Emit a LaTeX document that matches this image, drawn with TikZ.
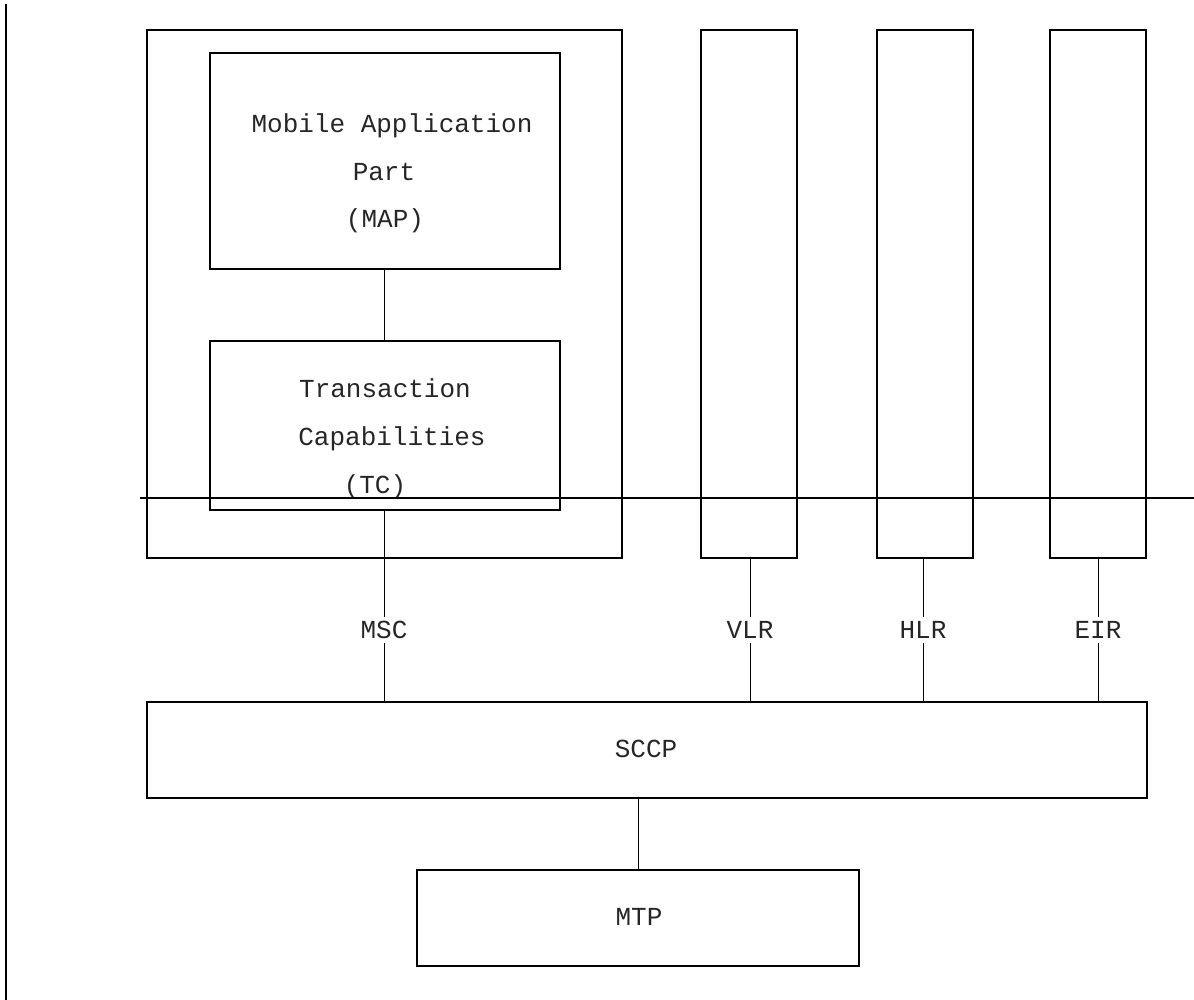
\documentclass[tikz,border=0pt]{standalone}
\usepackage{fontspec}
\setmonofont{Liberation Mono}
\begin{document}
\begin{tikzpicture}[x=1pt,y=-1pt,
  blk/.style={draw, line width=1.3pt, inner sep=0pt, rectangle},
  txt/.style={font=\ttfamily\fontsize{26}{30}\selectfont, anchor=base, inner sep=0pt, text=black!85},
  lbl/.style={font=\ttfamily\fontsize{26}{30}\selectfont, inner sep=4pt, text=black!85},
  conn/.style={line width=1pt},
  rule/.style={line width=2pt}]
\useasboundingbox (0,0) rectangle (1194,1000);

% boxes
\node[blk, minimum width=475pt, minimum height=528pt] (msc) at (384.5,294) {};
\node[blk, minimum width=350pt, minimum height=216pt] (map) at (385,161) {};
\node[blk, minimum width=350pt, minimum height=169pt] (tc) at (385,425.5) {};
\node[blk, minimum width=96pt, minimum height=528pt] (vlr) at (749,294) {};
\node[blk, minimum width=96pt, minimum height=528pt] (hlr) at (925,294) {};
\node[blk, minimum width=96pt, minimum height=528pt] (eir) at (1098,294) {};
\node[blk, minimum width=1000pt, minimum height=96pt] (sccp) at (647,750) {};
\node[blk, minimum width=442pt, minimum height=96pt] (mtp) at (638,918) {};

% texts
\node[txt] (map1) at (392,133) {Mobile Application};
\node[txt] (map2) at (384,181) {Part};
\node[txt] (map3) at (385,228) {(MAP)};
\node[txt] (tc1) at (385,397) {Transaction};
\node[txt] (tc2) at (392,445) {Capabilities};
\node[txt] (tc3) at (375,493) {(TC)};
\node[txt] (sccpt) at (646,757) {SCCP};
\node[txt] (mtpt) at (639,925) {MTP};

% labels
\node[lbl] (mscl) at (384,630) {MSC};
\node[lbl] (vlrl) at (750,630) {VLR};
\node[lbl] (hlrl) at (923,630) {HLR};
\node[lbl] (eirl) at (1098,630) {EIR};

% connectors
\draw[conn] (map.south -| mscl) -- (tc.north -| mscl);
\draw[conn] (tc.south -| mscl) -- (mscl) -- (sccp.north -| mscl);
\draw[conn] (vlr.south -| vlrl) -- (vlrl) -- (sccp.north -| vlrl);
\draw[conn] (hlr.south -| hlrl) -- (hlrl) -- (sccp.north -| hlrl);
\draw[conn] (eir.south -| eirl) -- (eirl) -- (sccp.north -| eirl);
\draw[conn] (sccp.south -| mtp.north) -- (mtp.north);

% rules
\coordinate (hl1) at (140,498);
\coordinate (hl2) at (1194,498);
\draw[rule] (hl1) -- (hl2);
\coordinate (vl1) at (6,4);
\coordinate (vl2) at (6,1000);
\draw[line width=2.5pt] (vl1) -- (vl2);
\end{tikzpicture}
\end{document}
